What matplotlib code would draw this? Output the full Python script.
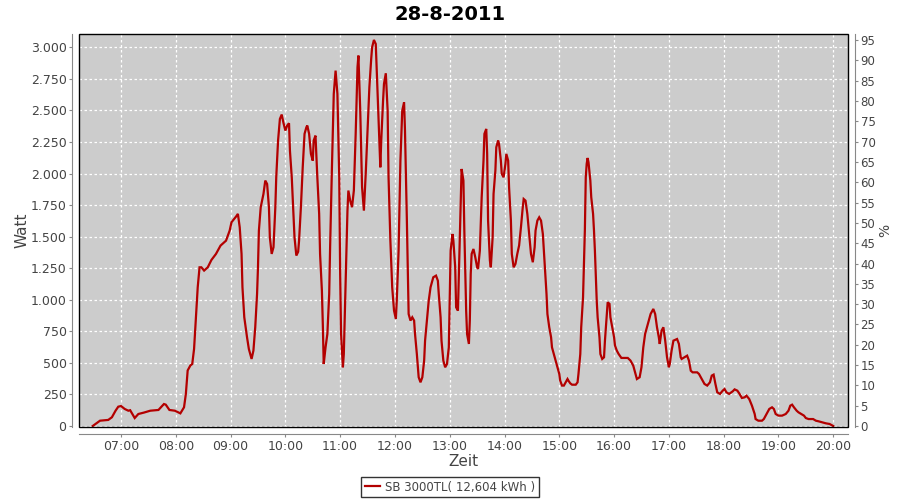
import matplotlib
matplotlib.use("Agg")
from matplotlib import pyplot as plt
from matplotlib.patches import Rectangle
from matplotlib.ticker import FuncFormatter

title = "28-8-2011"
series_name = "SB 3000TL( 12,604 kWh )"

# readings: time of day and power in watt
times = ["06:29", "06:37", "06:46", "06:50", "06:54", "06:57", "07:00", "07:04", "07:08", "07:10",
         "07:15", "07:19", "07:25", "07:32", "07:41", "07:47", "07:49", "07:53", "07:59", "08:05",
         "08:09", "08:11", "08:13", "08:16", "08:18", "08:20", "08:22", "08:24", "08:26", "08:28",
         "08:31", "08:35", "08:39", "08:44", "08:49", "08:55", "08:59", "09:01", "09:06", "09:08",
         "09:10", "09:12", "09:13", "09:15", "09:18", "09:20", "09:23", "09:25", "09:27", "09:29",
         "09:30", "09:31", "09:33", "09:36", "09:38", "09:40", "09:42", "09:43", "09:45", "09:47",
         "09:49", "09:50", "09:52", "09:54", "09:56", "09:58", "10:00", "10:02", "10:04", "10:05",
         "10:07", "10:09", "10:10", "10:12", "10:14", "10:15", "10:17", "10:19", "10:21", "10:23",
         "10:24", "10:26", "10:28", "10:30", "10:31", "10:33", "10:35", "10:37", "10:38", "10:40",
         "10:41", "10:42", "10:44", "10:46", "10:48", "10:49", "10:51", "10:53", "10:55", "10:57",
         "10:59", "11:00", "11:01", "11:03", "11:04", "11:06", "11:08", "11:09", "11:11", "11:13",
         "11:15", "11:17", "11:19", "11:20", "11:22", "11:24", "11:26", "11:28", "11:30", "11:32",
         "11:34", "11:35", "11:37", "11:39", "11:41", "11:43", "11:44", "11:45", "11:47", "11:48",
         "11:50", "11:52", "11:53", "11:55", "11:57", "11:59", "12:01", "12:02", "12:04", "12:06",
         "12:08", "12:10", "12:11", "12:13", "12:15", "12:17", "12:19", "12:21", "12:22", "12:24",
         "12:26", "12:28", "12:30", "12:32", "12:33", "12:35", "12:37", "12:39", "12:42", "12:45",
         "12:47", "12:48", "12:50", "12:51", "12:53", "12:55", "12:57", "12:59", "13:00", "13:01",
         "13:03", "13:04", "13:06", "13:07", "13:09", "13:10", "13:12", "13:13", "13:15", "13:16",
         "13:18", "13:19", "13:21", "13:22", "13:23", "13:24", "13:26", "13:28", "13:30", "13:31",
         "13:33", "13:35", "13:37", "13:38", "13:40", "13:41", "13:42", "13:44", "13:45", "13:47",
         "13:48", "13:50", "13:51", "13:53", "13:54", "13:56", "13:57", "13:59", "14:01", "14:02",
         "14:04", "14:05", "14:07", "14:08", "14:10", "14:12", "14:14", "14:16", "14:18", "14:20",
         "14:21", "14:23", "14:25", "14:27", "14:29", "14:31", "14:33", "14:34", "14:36", "14:38",
         "14:40", "14:42", "14:44", "14:46", "14:47", "14:49", "14:51", "14:52", "14:54", "14:56",
         "14:58", "15:00", "15:01", "15:03", "15:05", "15:07", "15:09", "15:10", "15:12", "15:14",
         "15:18", "15:20", "15:21", "15:23", "15:24", "15:26", "15:27", "15:28", "15:29", "15:30",
         "15:31", "15:32", "15:34", "15:35", "15:37", "15:38", "15:39", "15:41", "15:42", "15:44",
         "15:45", "15:47", "15:49", "15:50", "15:52", "15:53", "15:55", "15:56", "15:58", "16:00",
         "16:01", "16:03", "16:05", "16:08", "16:15", "16:18", "16:21", "16:23", "16:25", "16:28",
         "16:30", "16:32", "16:34", "16:36", "16:38", "16:40", "16:43", "16:45", "16:47", "16:49",
         "16:50", "16:52", "16:54", "16:56", "16:58", "17:00", "17:01", "17:03", "17:05", "17:09",
         "17:11", "17:13", "17:14", "17:17", "17:20", "17:22", "17:24", "17:26", "17:31", "17:33",
         "17:36", "17:39", "17:42", "17:45", "17:47", "17:49", "17:51", "17:53", "17:56", "17:59",
         "18:01", "18:03", "18:06", "18:10", "18:12", "18:15", "18:17", "18:20", "18:23", "18:25",
         "18:28", "18:31", "18:34", "18:35", "18:38", "18:42", "18:44", "18:47", "18:50", "18:53",
         "18:55", "18:57", "19:00", "19:04", "19:08", "19:11", "19:13", "19:15", "19:17", "19:20",
         "19:22", "19:25", "19:28", "19:30", "19:33", "19:38", "19:41", "19:44", "19:48", "19:52",
         "19:56", "20:00"]
watt = [0, 42, 48, 69, 121, 153, 158, 135, 121, 125,
        63, 95, 106, 121, 127, 174, 169, 127, 121, 100,
        148, 253, 440, 480, 491, 610, 848, 1099, 1257, 1257,
        1231, 1257, 1315, 1363, 1429, 1468, 1548, 1614, 1659, 1680,
        1574, 1363, 1099, 861, 703, 610, 531, 597, 782, 1046,
        1257, 1548, 1733, 1838, 1944, 1917, 1733, 1495, 1363, 1416,
        1733, 1970, 2261, 2432, 2467, 2398, 2340, 2380, 2398, 2181,
        1970, 1653, 1495, 1350, 1380, 1468, 1733, 2049, 2314, 2366,
        2380, 2314, 2155, 2102, 2261, 2300, 1970, 1680, 1363, 1072,
        808, 491, 623, 729, 1046, 1416, 2049, 2630, 2815, 2630,
        1970, 1204, 729, 465, 570, 1125, 1706, 1865, 1785, 1733,
        1865, 2314, 2842, 2934, 2498, 1891, 1706, 1997, 2340, 2683,
        2908, 3000, 3058, 3026, 2630, 2234, 2049, 2261, 2578, 2710,
        2794, 2498, 1970, 1468, 1099, 914, 848, 993, 1389, 2102,
        2498, 2564, 2340, 1653, 887, 835, 861, 835, 729, 570,
        386, 346, 386, 518, 676, 835, 993, 1099, 1178, 1191,
        1151, 1046, 861, 676, 518, 465, 491, 623, 993, 1389,
        1521, 1468, 1257, 940, 914, 1204, 1759, 2036, 1944, 1548,
        914, 729, 650, 835, 1204, 1363, 1402, 1336, 1257, 1244,
        1389, 1812, 2102, 2314, 2353, 2155, 1627, 1310, 1257, 1495,
        1838, 2023, 2208, 2261, 2234, 2102, 1997, 1970, 2076, 2155,
        2102, 1891, 1627, 1363, 1257, 1284, 1363, 1430, 1574, 1733,
        1798, 1785, 1680, 1521, 1363, 1297, 1416, 1548, 1627, 1653,
        1627, 1521, 1284, 1046, 887, 782, 703, 623, 570, 518,
        465, 412, 359, 320, 320, 346, 372, 359, 338, 327,
        327, 346, 412, 570, 782, 1019, 1284, 1548, 1970, 2076,
        2123, 2089, 1944, 1812, 1680, 1548, 1389, 993, 861, 703,
        570, 531, 544, 676, 887, 980, 967, 861, 782, 703,
        637, 597, 570, 539, 539, 518, 478, 425, 372, 386,
        465, 623, 729, 782, 835, 887, 927, 887, 782, 703,
        650, 755, 782, 676, 544, 465, 491, 597, 676, 689,
        650, 544, 531, 544, 557, 518, 438, 425, 425, 412,
        372, 333, 320, 346, 399, 407, 333, 267, 254, 280,
        293, 267, 254, 275, 290, 280, 259, 222, 227, 240,
        214, 161, 95, 55, 42, 42, 55, 95, 135, 148,
        135, 95, 82, 82, 95, 121, 161, 169, 148, 121,
        108, 95, 82, 63, 55, 55, 42, 37, 29, 21,
        16, 0]

hour_ticks = list(range(7, 21))
watt_ticks = list(range(0, 3001, 250))
pct_ticks = list(range(0, 96, 5))


def to_hours(s):
    h, m = s.split(":")
    return int(h) + int(m) / 60.0


hours = [to_hours(t) for t in times]

grey = "#444444"
axis_grey = "#888888"

fig = plt.figure(figsize=(9, 5), dpi=100)
fig.patch.set_facecolor("white")
ax = fig.add_axes([79 / 900, 1 - 427 / 500, 769 / 900, 393 / 500])
ax.set_facecolor("#cccccc")

line, = ax.plot(hours, watt, color="#b30000", lw=1.6, solid_joinstyle="miter")

ax.set_xlim(6.233, 20.27)
ax.set_ylim(-8, 3105)
ax.set_xticks(hour_ticks)
ax.set_xticklabels(["%02d:00" % h for h in hour_ticks])
ax.set_yticks(watt_ticks)
ax.yaxis.set_major_formatter(FuncFormatter(lambda v, p: "{:,}".format(int(v)).replace(",", ".")))
ax.grid(True, color="white", ls=(0, (2, 2)), lw=0.9)
ax.set_axisbelow(True)

# offset axis lines like the original, plot outline drawn separately
for side in ["top", "right"]:
    ax.spines[side].set_visible(False)
for side in ["left", "bottom"]:
    ax.spines[side].set_position(("outward", 5))
    ax.spines[side].set_color(axis_grey)
ax.add_patch(Rectangle((0, 0), 1, 1, transform=ax.transAxes, fill=False,
                       edgecolor="black", lw=1.0, clip_on=False, zorder=5))
ax.tick_params(axis="both", length=2, color=axis_grey, labelcolor=grey, labelsize=9, pad=2)

ax.set_xlabel("Zeit", fontsize=11, color=grey, labelpad=1)
ax.set_ylabel("Watt", fontsize=11, color=grey, labelpad=1)

ax2 = ax.twinx()
ax2.set_ylim(-0.25, 96.5)
ax2.set_yticks(pct_ticks)
for side in ["top", "left", "bottom"]:
    ax2.spines[side].set_visible(False)
ax2.spines["right"].set_position(("outward", 5))
ax2.spines["right"].set_color(axis_grey)
ax2.tick_params(axis="y", length=2, color=axis_grey, labelcolor=grey, labelsize=8.5, pad=2)
ax2.set_ylabel("%", fontsize=10, color=grey, labelpad=2)

fig.text(0.5, 1 - 14 / 500, title, ha="center", va="center", fontsize=14, fontweight="bold")

leg = fig.legend([line], [series_name], loc="center", bbox_to_anchor=(450 / 900, 1 - 487 / 500),
                 frameon=True, fancybox=False, edgecolor="black", fontsize=8.5,
                 handlelength=1.3, borderpad=0.3, handletextpad=0.4)
leg.get_frame().set_linewidth(1.0)
for t in leg.get_texts():
    t.set_color(grey)

fig.savefig("out.png", dpi=100)
